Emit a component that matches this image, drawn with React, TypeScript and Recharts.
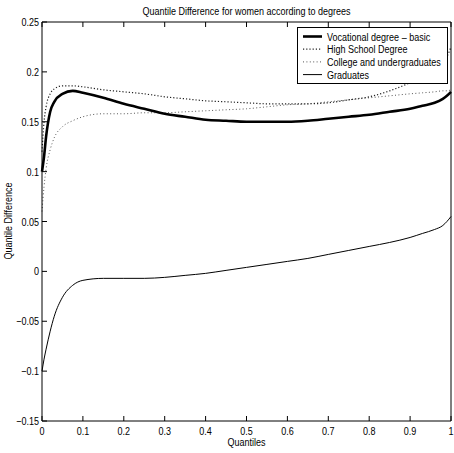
import React from 'react';
import { LineChart, Line, XAxis, YAxis, Legend } from 'recharts';

const quantiles = [0, 0.005, 0.01, 0.02, 0.03, 0.05, 0.075, 0.1, 0.15, 0.2, 0.25, 0.3, 0.35, 0.4, 0.45, 0.5, 0.55, 0.6, 0.65, 0.7, 0.75, 0.8, 0.85, 0.9, 0.93, 0.96, 0.98, 0.99, 1];
const vocational = [0.1, 0.115, 0.135, 0.16, 0.17, 0.178, 0.181, 0.179, 0.174, 0.168, 0.163, 0.158, 0.155, 0.152, 0.151, 0.15, 0.15, 0.15, 0.151, 0.153, 0.155, 0.157, 0.16, 0.163, 0.166, 0.169, 0.173, 0.176, 0.18];
const highSchool = [0.12, 0.15, 0.165, 0.178, 0.183, 0.186, 0.186, 0.185, 0.182, 0.18, 0.178, 0.175, 0.173, 0.171, 0.17, 0.169, 0.168, 0.168, 0.168, 0.169, 0.172, 0.175, 0.181, 0.189, 0.194, 0.2, 0.208, 0.215, 0.225];
const college = [0.06, 0.085, 0.103, 0.122, 0.134, 0.145, 0.151, 0.155, 0.158, 0.158, 0.159, 0.159, 0.16, 0.161, 0.162, 0.163, 0.165, 0.167, 0.168, 0.17, 0.172, 0.174, 0.176, 0.178, 0.179, 0.18, 0.181, 0.181, 0.182];
const graduates = [-0.1, -0.088, -0.078, -0.06, -0.045, -0.026, -0.014, -0.009, -0.007, -0.007, -0.007, -0.006, -0.004, -0.002, 0.001, 0.004, 0.007, 0.01, 0.013, 0.017, 0.021, 0.025, 0.029, 0.034, 0.038, 0.042, 0.046, 0.05, 0.055];

const xTicks = [0, 0.1, 0.2, 0.3, 0.4, 0.5, 0.6, 0.7, 0.8, 0.9, 1];
const yTicks = [-0.15, -0.1, -0.05, 0, 0.05, 0.1, 0.15, 0.2, 0.25];
const seriesNames = ['Vocational degree \u2013 basic', 'High School Degree', 'College and undergraduates', 'Graduates'];
const chartTitle = 'Quantile Difference for women according to degrees';
const xLabel = 'Quantiles';
const yLabel = 'Quantile Difference';

const data = quantiles.map((q, i) => ({
  q,
  voc: vocational[i],
  hs: highSchool[i],
  col: college[i],
  grad: graduates[i],
}));

const FONT = "'Liberation Sans', Arial, sans-serif";
const FS = 11;
const SX = 0.82;

const fmt = (v: number) => {
  const s = String(Math.round(v * 1000) / 1000);
  return s.replace('-', '\u2212');
};

const NText = ({ x, y, anchor = 'start', rotate = 0, children }: any) => (
  <text
    transform={`translate(${x},${y}) rotate(${rotate}) scale(${SX},1)`}
    x={0}
    y={0}
    textAnchor={anchor}
    fontSize={FS}
    fontFamily={FONT}
    fill="#000"
  >
    {children}
  </text>
);

const styles = [
  { stroke: '#000', strokeWidth: 2.6, dash: undefined as string | undefined },
  { stroke: '#222', strokeWidth: 1.2, dash: '1.2 2' },
  { stroke: '#555', strokeWidth: 1, dash: '1 2.4' },
  { stroke: '#000', strokeWidth: 1, dash: undefined as string | undefined },
];

const LeftTick = (p: any) => (
  <g>
    <line x1={p.x} x2={p.x + 5} y1={p.y} y2={p.y} stroke="#000" />
    <NText x={p.x - 3} y={p.y + 4} anchor="end">{fmt(p.payload.value)}</NText>
  </g>
);
const RightTick = (p: any) => (
  <line x1={p.x} x2={p.x - 5} y1={p.y} y2={p.y} stroke="#000" />
);
const BottomTick = (p: any) => (
  <g>
    <line x1={p.x} x2={p.x} y1={p.y} y2={p.y - 5} stroke="#000" />
    <NText x={p.x} y={p.y + 14} anchor="middle">{fmt(p.payload.value)}</NText>
  </g>
);
const TopTick = (p: any) => (
  <line x1={p.x} x2={p.x} y1={p.y} y2={p.y + 5} stroke="#000" />
);

const LegendBox = () => (
  <svg width={151} height={57} style={{ display: 'block' }}>
    <rect x={0.5} y={0.5} width={150} height={56} fill="#fff" stroke="#000" strokeWidth={1} />
    {seriesNames.map((n, i) => {
      const cy = 9.5 + i * 12.7;
      const s = styles[i];
      return (
        <g key={n}>
          <line x1={6} x2={25} y1={cy} y2={cy} stroke={s.stroke} strokeWidth={s.strokeWidth} strokeDasharray={s.dash} />
          <NText x={30} y={cy + 4}>{n}</NText>
        </g>
      );
    })}
  </svg>
);

export default function App() {
  return (
    <div style={{ position: 'absolute', left: 0, top: 0, width: 454, height: 453, background: '#fff' }}>
      <LineChart width={454} height={453} data={data} margin={{ top: 0, right: 0, bottom: 0, left: 0 }}>
        <XAxis
          dataKey="q"
          type="number"
          domain={[0, 1]}
          ticks={xTicks}
          interval={0}
          height={32}
          tickSize={0}
          tickMargin={0}
          tickLine={false}
          tick={<BottomTick />}
          axisLine={{ stroke: '#000' }}
          label={() => <NText x={246.5} y={446} anchor="middle">{xLabel}</NText>}
        />
        <XAxis
          xAxisId="top"
          orientation="top"
          dataKey="q"
          type="number"
          domain={[0, 1]}
          ticks={xTicks}
          interval={0}
          height={22}
          tickSize={0}
          tickMargin={0}
          tickLine={false}
          tick={<TopTick />}
          axisLine={{ stroke: '#000' }}
          label={() => <NText x={246.5} y={15} anchor="middle">{chartTitle}</NText>}
        />
        <YAxis
          type="number"
          domain={[-0.15, 0.25]}
          ticks={yTicks}
          interval={0}
          width={42}
          tickSize={0}
          tickMargin={0}
          tickLine={false}
          tick={<LeftTick />}
          axisLine={{ stroke: '#000' }}
          allowDataOverflow
          label={() => <NText x={12} y={221} rotate={-90} anchor="middle">{yLabel}</NText>}
        />
        <YAxis
          yAxisId="right"
          orientation="right"
          type="number"
          domain={[-0.15, 0.25]}
          ticks={yTicks}
          interval={0}
          width={3}
          tickSize={0}
          tickMargin={0}
          tickLine={false}
          tick={<RightTick />}
          axisLine={{ stroke: '#000' }}
        />
        <Line dataKey="col" type="monotone" dot={false} isAnimationActive={false} stroke={styles[2].stroke} strokeWidth={styles[2].strokeWidth} strokeDasharray={styles[2].dash} />
        <Line dataKey="hs" type="monotone" dot={false} isAnimationActive={false} stroke={styles[1].stroke} strokeWidth={styles[1].strokeWidth} strokeDasharray={styles[1].dash} />
        <Line dataKey="grad" type="monotone" dot={false} isAnimationActive={false} stroke={styles[3].stroke} strokeWidth={styles[3].strokeWidth} />
        <Line dataKey="voc" type="monotone" dot={false} isAnimationActive={false} stroke={styles[0].stroke} strokeWidth={styles[0].strokeWidth} />
        <Legend
          layout="horizontal"
          verticalAlign="middle"
          align="center"
          content={() => <LegendBox />}
          wrapperStyle={{ position: 'absolute', left: 297, top: 27, width: 151, height: 57 }}
        />
      </LineChart>
    </div>
  );
}
